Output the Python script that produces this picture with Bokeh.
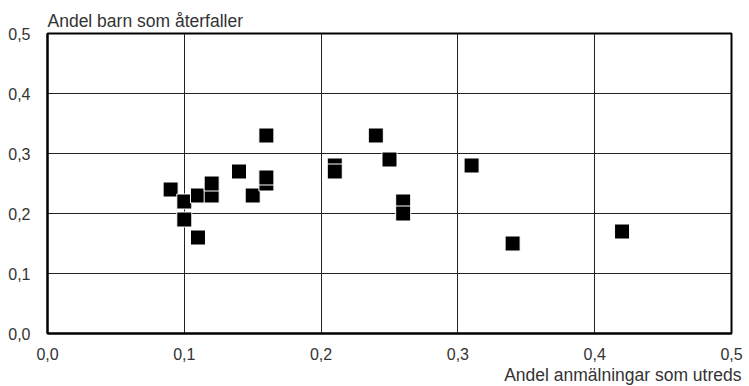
from bokeh.plotting import figure
from bokeh.models import Range1d, FixedTicker, Title
from bokeh.embed import file_html
from bokeh.resources import INLINE

# Data
andel_utreds = [0.09, 0.10, 0.10, 0.11, 0.11, 0.12, 0.12, 0.14, 0.15, 0.16, 0.16, 0.16,
                0.21, 0.21, 0.24, 0.25, 0.26, 0.26, 0.31, 0.34, 0.42]
andel_aterfaller = [0.24, 0.22, 0.19, 0.23, 0.16, 0.23, 0.25, 0.27, 0.23, 0.33, 0.25, 0.26,
                    0.28, 0.27, 0.33, 0.29, 0.22, 0.20, 0.28, 0.15, 0.17]

tick_values = [0.0, 0.1, 0.2, 0.3, 0.4, 0.5]
tick_labels = ["0,0", "0,1", "0,2", "0,3", "0,4", "0,5"]
x_title = "Andel anmälningar som utreds"
y_title = "Andel barn som återfaller"

FONT = "Liberation Sans"
TXT = "#333333"

p = figure(width=749, height=386, output_backend="svg", toolbar_location=None,
           x_range=Range1d(0, 0.5), y_range=Range1d(0, 0.5),
           min_border_left=47, min_border_right=18, min_border_top=33, min_border_bottom=53)

p.background_fill_color = "white"
p.border_fill_color = "white"
p.outline_line_color = "black"
p.outline_line_width = 2

overrides = dict(zip(tick_values, tick_labels))
for ax in (p.xaxis[0], p.yaxis[0]):
    ax.ticker = FixedTicker(ticks=tick_values)
    ax.major_label_overrides = overrides
    ax.major_tick_line_color = None
    ax.minor_tick_line_color = None
    ax.axis_line_color = "black"
    ax.axis_line_width = 2
    ax.major_label_text_font = FONT
    ax.major_label_text_font_size = "16px"
    ax.major_label_text_color = TXT
p.xaxis.major_label_standoff = 8
p.yaxis.major_label_standoff = 11

for g in (p.xgrid[0], p.ygrid[0]):
    g.ticker = FixedTicker(ticks=tick_values)
    g.grid_line_color = "#222222"
    g.grid_line_width = 1

p.scatter(andel_utreds, andel_aterfaller, marker="square", size=15,
          fill_color="black", line_color="white", line_width=1)

p.add_layout(Title(text=y_title, align="left", standoff=6,
                   text_font=FONT, text_font_size="17.5px", text_font_style="normal",
                   text_color=TXT), "above")
p.add_layout(Title(text=x_title, align="right", standoff=0, offset=-10,
                   text_font=FONT, text_font_size="17.5px", text_font_style="normal",
                   text_color=TXT), "below")

open("out.html", "w").write(file_html(p, INLINE))
